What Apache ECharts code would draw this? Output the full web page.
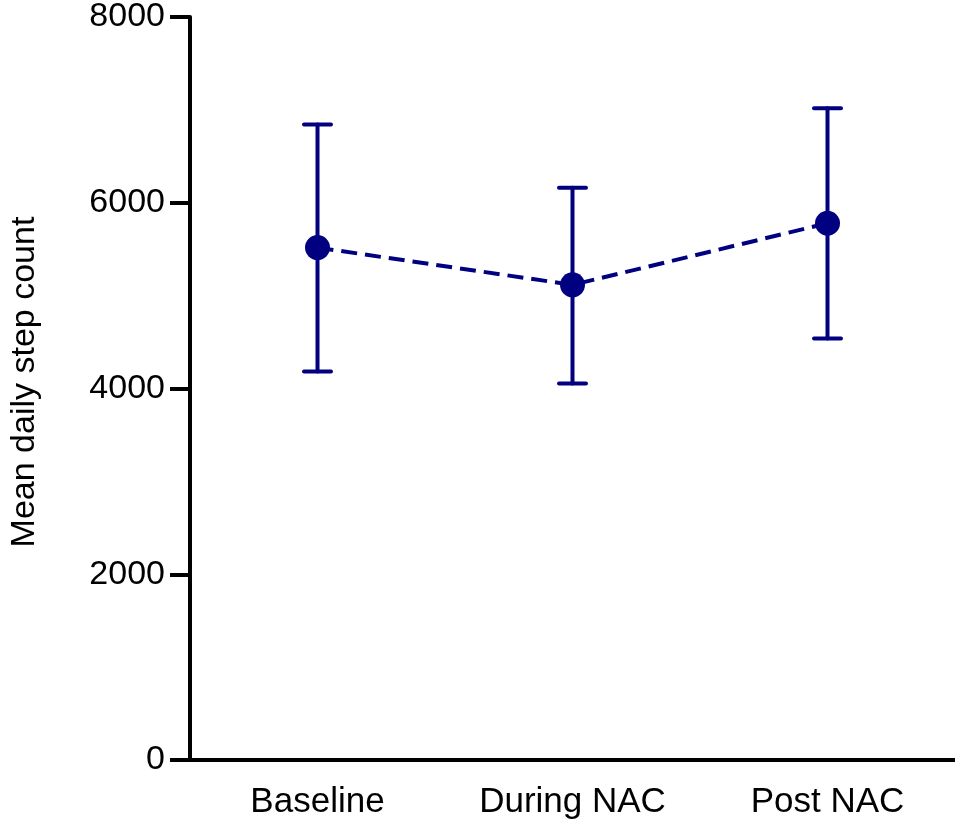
<!DOCTYPE html>
<html>
<head>
<meta charset="utf-8">
<style>html,body{margin:0;padding:0;background:#fff;}#chart{width:955px;height:820px;}</style>
<script src="https://cdn.jsdelivr.net/npm/echarts@6/dist/echarts.min.js"></script>
</head>
<body>
<div id="chart"></div>
<script>
const categories = ['Baseline', 'During NAC', 'Post NAC'];
const meanSteps = [5517, 5116, 5779];
const lowerSteps = [4184, 4055, 4539];
const upperSteps = [6843, 6162, 7018];
const yTicks = [0, 2000, 4000, 6000, 8000];

const color = '#000080';
const font = 'Liberation Sans, Arial, sans-serif';
const chart = echarts.init(document.getElementById('chart'));
const errData = categories.map((c, i) => [i, lowerSteps[i], upperSteps[i]]);

chart.setOption({
  animation: false,
  grid: { left: 189.5, right: -0.5, top: 16, bottom: 60, containLabel: false },
  xAxis: {
    type: 'category',
    data: categories,
    boundaryGap: true,
    axisLine: { lineStyle: { color: '#000', width: 4 } },
    axisTick: { alignWithLabel: true, length: 20, lineStyle: { color: '#000', width: 4 } },
    axisLabel: { color: '#000', fontSize: 35, fontFamily: font, margin: 25 }
  },
  yAxis: {
    type: 'value',
    min: yTicks[0],
    max: yTicks[yTicks.length - 1],
    interval: 2000,
    name: 'Mean daily step count',
    nameLocation: 'middle',
    nameGap: 148,
    nameTextStyle: { color: '#000', fontSize: 34, fontFamily: font, padding: [0, 0, 0, 13] },
    axisLine: { show: true, lineStyle: { color: '#000', width: 4 } },
    axisTick: { show: true, length: 20, lineStyle: { color: '#000', width: 4 } },
    splitLine: { show: false },
    axisLabel: { color: '#000', fontSize: 34, fontFamily: font, margin: 25, formatter: v => String(v) }
  },
  series: [
    {
      type: 'custom',
      data: errData,
      z: 3,
      renderItem: function (params, api) {
        const x = api.value(0);
        const lo = api.coord([x, api.value(1)]);
        const hi = api.coord([x, api.value(2)]);
        const hw = 13.5;
        const style = { stroke: color, lineWidth: 4, lineCap: 'round' };
        return {
          type: 'group',
          children: [
            { type: 'line', shape: { x1: lo[0], y1: lo[1], x2: hi[0], y2: hi[1] }, style: style },
            { type: 'line', shape: { x1: lo[0] - hw, y1: lo[1], x2: lo[0] + hw, y2: lo[1] }, style: style },
            { type: 'line', shape: { x1: hi[0] - hw, y1: hi[1], x2: hi[0] + hw, y2: hi[1] }, style: style }
          ]
        };
      }
    },
    {
      type: 'line',
      data: meanSteps,
      z: 4,
      symbol: 'circle',
      symbolSize: 25,
      itemStyle: { color: color },
      lineStyle: { color: color, width: 4, type: [16, 8] }
    }
  ]
});
</script>
</body>
</html>
